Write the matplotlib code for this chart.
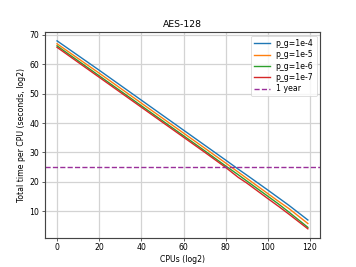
import numpy as np
import matplotlib
matplotlib.use("Agg")
import matplotlib.pyplot as plt

# CPUs (log2) where values were read
cpus = [0, 10, 20, 30, 40, 50, 60, 70, 80, 86, 90, 100, 105, 110, 119]

# total time per CPU (seconds, log2)
t_1e4 = [68.0, 63.0, 58.0, 52.9, 47.8, 42.7, 37.6, 32.5, 27.4, 24.3, 22.3, 17.2, 14.6, 12.0, 7.0]
t_1e5 = [67.0, 62.0, 57.0, 51.9, 46.8, 41.7, 36.6, 31.5, 26.4, 23.3, 21.2, 16.0, 13.4, 10.9, 5.8]
t_1e6 = [66.3, 61.2, 56.1, 51.0, 45.9, 40.8, 35.7, 30.6, 25.4, 22.4, 20.3, 15.1, 12.5, 9.7, 4.5]
t_1e7 = [65.8, 60.7, 55.6, 50.5, 45.4, 40.3, 35.2, 30.1, 24.9, 21.5, 19.6, 14.3, 11.7, 9.0, 4.0]
one_year = 24.9

fig = plt.figure(figsize=(6.4, 4.8), dpi=55.625)
ax = fig.add_subplot(111)

ax.plot(cpus, t_1e4, lw=1.8, label="p_g=1e-4")
ax.plot(cpus, t_1e5, lw=1.8, label="p_g=1e-5")
ax.plot(cpus, t_1e6, lw=1.8, label="p_g=1e-6")
ax.plot(cpus, t_1e7, lw=1.8, label="p_g=1e-7")
ax.axhline(one_year, color="#9a2f9a", linestyle="--", lw=1.8, label="1 year")

ax.set_xlabel("CPUs (log2)")
ax.set_ylabel("Total time per CPU (seconds, log2)")
ax.set_title("AES-128")
ax.set_xticks([0, 20, 40, 60, 80, 100, 120])
ax.set_yticks([10, 20, 30, 40, 50, 60, 70])
ax.set_ylim(1, 71)
ax.grid(True, color="#d3d3d3", linewidth=1.6)
for s in ax.spines.values():
    s.set_linewidth(1.5)
    s.set_color("#444444")
ax.legend(loc="upper right", labelspacing=0.3, handlelength=2.0)

fig.savefig("out.png", dpi=55.625)
